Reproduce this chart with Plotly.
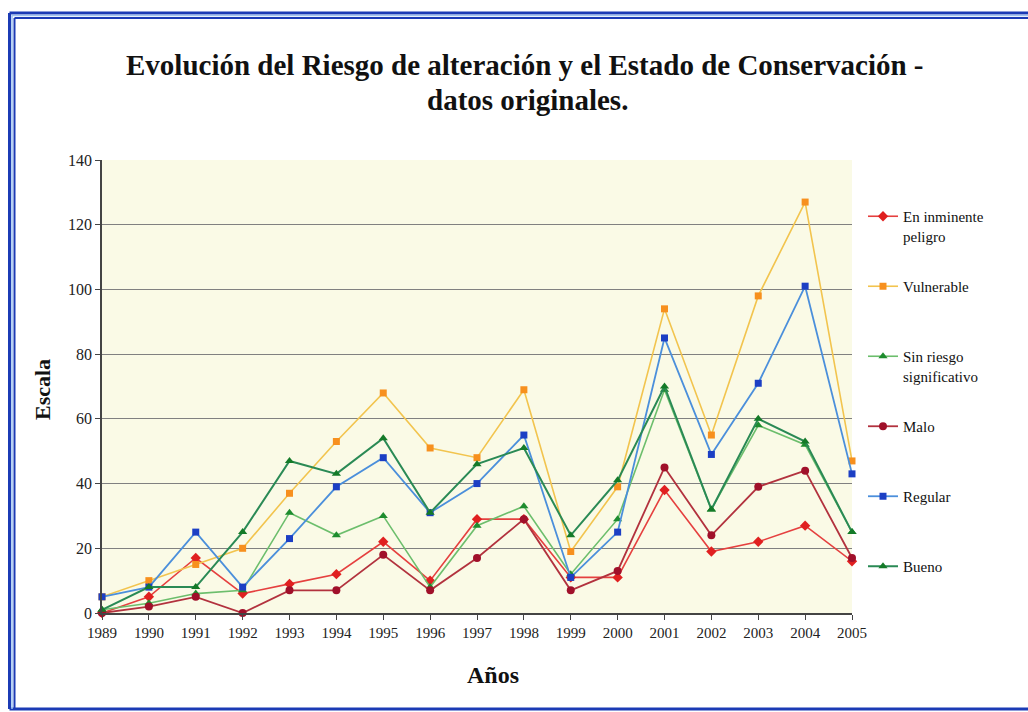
import plotly.graph_objects as go

years = list(range(1989, 2006))
en_inminente = [0, 5, 17, 6, 9, 12, 22, 10, 29, 29, 11, 11, 38, 19, 22, 27, 16]
vulnerable = [5, 10, 15, 20, 37, 53, 68, 51, 48, 69, 19, 39, 94, 55, 98, 127, 47]
sin_riesgo = [1, 3, 6, 7, 31, 24, 30, 8, 27, 33, 12, 29, 69, 32, 58, 52, 25]
malo = [0, 2, 5, 0, 7, 7, 18, 7, 17, 29, 7, 13, 45, 24, 39, 44, 17]
regular = [5, 8, 25, 8, 23, 39, 48, 31, 40, 55, 11, 25, 85, 49, 71, 101, 43]
bueno = [1, 8, 8, 25, 47, 43, 54, 31, 46, 51, 24, 41, 70, 32, 60, 53, 25]

y_ticks = [0, 20, 40, 60, 80, 100, 120, 140]

series = [
    ("En inminente<br>peligro", en_inminente, "#E5403F", "#E02020", "diamond", 8, 1.6),
    ("Vulnerable<br> ", vulnerable, "#F2C44E", "#F7901E", "square", 7, 1.6),
    ("Sin riesgo<br>significativo", sin_riesgo, "#6CBE6C", "#1E8C2E", "triangle-up", 8, 1.6),
    ("Malo<br> ", malo, "#B2323E", "#A0102A", "circle", 8, 1.8),
    ("Regular<br> ", regular, "#4B8FDB", "#1C3FC4", "square", 7, 1.8),
    ("Bueno<br> ", bueno, "#2A8A55", "#147A28", "triangle-up", 8, 2.0),
]

W, H = 1028, 712
L, R, T, B = 102, 176, 160, 99
PW, PH = W - L - R, H - T - B


def px(x):
    return (x - L) / PW


def py(y):
    return (H - B - y) / PH


fig = go.Figure()
for name, vals, lc, mc, sym, ms, lw in series:
    fig.add_trace(go.Scatter(
        x=years, y=vals, name=name, mode="lines+markers",
        line=dict(color=lc, width=lw),
        marker=dict(color=mc, symbol=sym, size=ms),
        cliponaxis=False,
        legendgroup=name,
    ))

serif = "Liberation Serif, Times New Roman, serif"
blue = "#1B3BB5"

fig.update_layout(
    width=W, height=H,
    margin=dict(l=L, r=R, t=T, b=B, pad=0),
    paper_bgcolor="white",
    plot_bgcolor="#FAFAE6",
    font=dict(family=serif, color="#222222", size=15),
    showlegend=True,
    legend=dict(
        x=px(863), y=py(200), xanchor="left", yanchor="top",
        valign="top", tracegroupgap=28,
        font=dict(family=serif, size=15, color="#111111"),
        bgcolor="rgba(0,0,0,0)", itemwidth=30,
    ),
    xaxis=dict(
        range=[1989, 2005], tickmode="array", tickvals=years,
        ticktext=[str(y) for y in years],
        showgrid=False, zeroline=False,
        showline=True, linecolor="#444444", linewidth=1.5,
        ticks="outside", ticklen=5, tickcolor="#444444",
        tickfont=dict(family=serif, size=15, color="#222222"),
    ),
    yaxis=dict(
        range=[0, 140], tickmode="array", tickvals=y_ticks,
        showgrid=True, gridcolor="#808080", gridwidth=1.2,
        zeroline=False,
        showline=True, linecolor="#444444", linewidth=1.5,
        ticks="outside", ticklen=5, tickcolor="#444444",
        tickfont=dict(family=serif, size=16, color="#222222"),
    ),
    annotations=[
        dict(text="<b>Evolución del Riesgo de alteración y el Estado de Conservación -</b>",
             xref="paper", yref="paper", x=px(524), y=py(65), showarrow=False,
             xanchor="center", yanchor="middle",
             font=dict(family=serif, size=29, color="#111111")),
        dict(text="<b>datos originales.</b>",
             xref="paper", yref="paper", x=px(527), y=py(100), showarrow=False,
             xanchor="center", yanchor="middle",
             font=dict(family=serif, size=29, color="#111111")),
        dict(text="<b>Escala</b>", textangle=-90,
             xref="paper", yref="paper", x=px(42), y=py(390), showarrow=False,
             xanchor="center", yanchor="middle",
             font=dict(family=serif, size=22, color="#111111")),
        dict(text="<b>Años</b>",
             xref="paper", yref="paper", x=px(493), y=py(675), showarrow=False,
             xanchor="center", yanchor="middle",
             font=dict(family=serif, size=24, color="#111111")),
    ],
    shapes=[
        dict(type="line", xref="paper", yref="paper", x0=px(9.5), x1=px(1040), y0=py(13), y1=py(13),
             line=dict(color=blue, width=3)),
        dict(type="line", xref="paper", yref="paper", x0=px(9.5), x1=px(9.5), y0=py(13), y1=py(709),
             line=dict(color=blue, width=3)),
        dict(type="line", xref="paper", yref="paper", x0=px(9.5), x1=px(1040), y0=py(709), y1=py(709),
             line=dict(color=blue, width=3)),
        dict(type="line", xref="paper", yref="paper", x0=px(14.5), x1=px(1040), y0=py(18), y1=py(18),
             line=dict(color=blue, width=2)),
        dict(type="line", xref="paper", yref="paper", x0=px(14.5), x1=px(14.5), y0=py(18), y1=py(709),
             line=dict(color=blue, width=2)),
        dict(type="line", xref="paper", yref="paper", x0=px(11.5), x1=px(1040), y0=py(15.5), y1=py(15.5),
             line=dict(color="#9FC3F0", width=1.5)),
        dict(type="line", xref="paper", yref="paper", x0=px(12), x1=px(12), y0=py(15.5), y1=py(709),
             line=dict(color="#9FC3F0", width=1.5)),
    ],
)

fig.write_html("out.html", config={"displayModeBar": False},
               post_script="document.body.style.margin='0';")
